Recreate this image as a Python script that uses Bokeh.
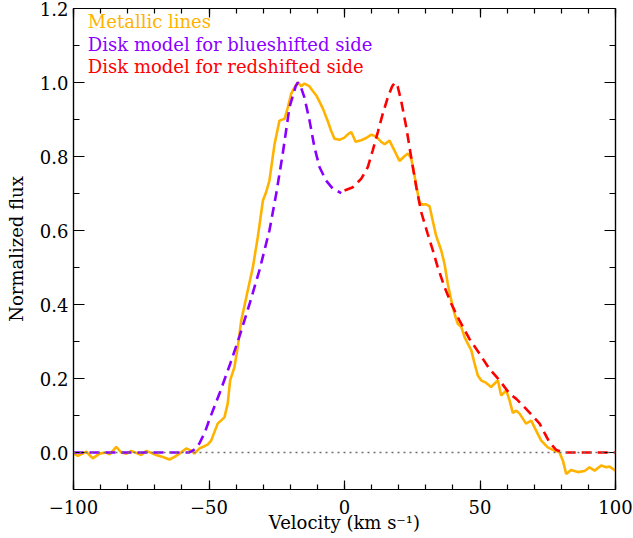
from bokeh.plotting import figure
from bokeh.models import LinearAxis, FixedTicker, CustomJSTickFormatter, Label, Span
from bokeh.embed import file_html
from bokeh.resources import INLINE

# ---------------- data ----------------
metal_v = [-100, -98.4, -95.3, -92.9, -90.4, -87.9, -86.7, -84.2, -82.4, -80.5,
           -78.7, -76.9, -75.0, -73.2, -71.3, -69.5, -67.0, -64.6, -62.7, -60.9,
           -58.4, -56.6, -55.4, -53.5, -51.7, -50.4, -49.2, -46.8, -44.3, -43.1,
           -42.2, -40.6, -39.4, -38.1, -35.7, -33.8, -32.0, -30.1, -28.9, -27.7,
           -25.8, -24.0, -22.1, -20.9, -19.7, -18.5, -17.2, -16.0, -14.8, -13.0,
           -11.7, -10.4, -8.0, -6.2, -4.9, -3.7, -1.85, 0.0, 1.2, 2.5,
           4.1, 6.2, 8.0, 9.9, 11.5, 13.5, 14.8, 16.6, 18.5, 20.3,
           22.0, 23.4, 24.6, 25.8, 26.5, 27.7, 28.9, 30.1, 31.4, 32.6,
           33.8, 35.7, 36.9, 38.1, 39.4, 40.6, 41.8, 43.1, 44.3, 45.5,
           46.8, 48.0, 49.2, 50.4, 52.3, 54.1, 56.6, 57.8, 59.7, 60.9,
           62.1, 63.4, 64.6, 67.0, 68.9, 70.7, 72.6, 75.0, 77.5, 79.3,
           80.6, 81.8, 83.6, 86.1, 88.6, 90.4, 92.3, 94.7, 96.6, 97.8, 100]
metal_f = [-0.003, -0.009, 0.002, -0.016, -0.003, 0.0, -0.005, 0.015, 0.0, -0.003,
           0.004, -0.001, -0.007, 0.004, -0.001, -0.007, -0.012, -0.019, -0.012, -0.003,
           0.011, 0.005, -0.003, 0.011, 0.017, 0.022, 0.032, 0.078, 0.095, 0.132,
           0.195, 0.231, 0.285, 0.357, 0.438, 0.501, 0.582, 0.681, 0.704, 0.735,
           0.834, 0.897, 0.902, 0.933, 0.969, 0.986, 1.0, 0.99, 0.997, 0.99,
           0.977, 0.965, 0.93, 0.896, 0.869, 0.848, 0.845, 0.851, 0.86, 0.866,
           0.84, 0.844, 0.85, 0.859, 0.855, 0.84, 0.833, 0.843, 0.815, 0.788,
           0.80, 0.808, 0.795, 0.75, 0.72, 0.675, 0.67, 0.671, 0.665, 0.625,
           0.586, 0.546, 0.51, 0.456, 0.411, 0.375, 0.348, 0.339, 0.312, 0.294,
           0.276, 0.24, 0.208, 0.195, 0.188, 0.177, 0.195, 0.154, 0.168, 0.141,
           0.107, 0.113, 0.105, 0.078, 0.086, 0.059, 0.032, 0.014, 0.005, 0.001,
           -0.022, -0.058, -0.047, -0.053, -0.05, -0.04, -0.049, -0.035, -0.04, -0.038, -0.049]

blue_v = [-100, -57.5, -56.5, -55.0, -53.5, -51.5, -49.8, -46.1, -42.4, -38.7,
          -35.1, -31.4, -27.7, -25.2, -22.8, -20.3, -18.0, -17.2, -16.2, -14.8,
          -12.9, -11.1, -9.2, -6.8, -4.3, -1.2]
blue_f = [0.0, 0.0, 0.003, 0.01, 0.025, 0.055, 0.09, 0.16, 0.235, 0.315,
          0.40, 0.492, 0.6, 0.699, 0.807, 0.933, 0.99, 1.0, 0.99, 0.96,
          0.897, 0.825, 0.771, 0.735, 0.713, 0.701]

red_v = [0.0, 3.1, 6.2, 8.6, 10.4, 12.3, 14.1, 16.0, 17.6, 18.6,
         19.6, 20.9, 22.8, 24.6, 26.5, 28.3, 30.7, 32.6, 34.4, 36.9,
         39.4, 42.4, 46.1, 49.8, 53.5, 57.2, 60.9, 63.4, 67.0, 72.0,
         75.6, 78.1, 80.6, 100]
red_f = [0.708, 0.717, 0.74, 0.771, 0.816, 0.866, 0.915, 0.96, 0.99, 1.0,
         0.99, 0.951, 0.879, 0.798, 0.717, 0.65, 0.591, 0.546, 0.501, 0.447,
         0.402, 0.357, 0.307, 0.267, 0.226, 0.195, 0.159, 0.145, 0.118, 0.078,
         0.028, 0.007, 0.0, 0.0]

x_major = [-100, -50, 0, 50, 100]
x_minor = list(range(-100, 101, 10))
y_major = [0.0, 0.2, 0.4, 0.6, 0.8, 1.0, 1.2]
y_minor = [-0.1, 0.0, 0.1, 0.2, 0.3, 0.4, 0.5, 0.6, 0.7, 0.8, 0.9, 1.0, 1.1, 1.2]
x_labels = {-100: "\u2212100", -50: "\u221250", 0: "0", 50: "50", 100: "100"}
y_labels = {0.0: "0.0", 0.2: "0.2", 0.4: "0.4", 0.6: "0.6", 0.8: "0.8", 1.0: "1.0", 1.2: "1.2"}

legend_texts = ["Metallic lines", "Disk model for blueshifted side", "Disk model for redshifted side"]

C_METAL = "#FFB300"
C_BLUE = "#8A00FF"
C_RED = "#FF0000"
FONT = "DejaVu Serif"
FS = "18px"

# ---------------- figure ----------------
p = figure(width=633, height=538, x_range=(-100, 100), y_range=(-0.1, 1.2),
           output_backend="svg", toolbar_location=None,
           x_axis_location=None, y_axis_location=None,
           min_border_left=73, min_border_right=18, min_border_top=8, min_border_bottom=49)
p.xgrid.visible = False
p.ygrid.visible = False
p.outline_line_color = "black"
p.outline_line_width = 1.2
p.background_fill_color = "white"
p.border_fill_color = "white"

xt = FixedTicker(ticks=x_major, minor_ticks=x_minor)
yt = FixedTicker(ticks=y_major, minor_ticks=y_minor)
blank = CustomJSTickFormatter(code="return ''")


def style(ax, tin, mtin):
    ax.major_tick_in = tin
    ax.major_tick_out = 0
    ax.minor_tick_in = mtin
    ax.minor_tick_out = 0
    ax.axis_line_color = "black"
    ax.axis_line_width = 1.2
    ax.major_tick_line_color = "black"
    ax.minor_tick_line_color = "black"
    ax.major_tick_line_width = 1.2
    ax.minor_tick_line_width = 1.2
    ax.major_label_text_font = FONT
    ax.major_label_text_font_size = FS
    ax.major_label_text_color = "black"
    ax.axis_label_text_font = FONT
    ax.axis_label_text_font_size = FS
    ax.axis_label_text_font_style = "normal"
    ax.axis_label_text_color = "black"


xb = LinearAxis(ticker=xt, axis_label="Velocity (km s\u207b\u00b9)")
xb.major_label_overrides = x_labels
style(xb, 9, 5)
xb.major_label_standoff = 10
xb.axis_label_standoff = -5
p.add_layout(xb, "below")

yl = LinearAxis(ticker=yt, axis_label="Normalized flux")
yl.major_label_overrides = y_labels
style(yl, 11, 6)
yl.major_label_standoff = 5
yl.axis_label_standoff = 10
p.add_layout(yl, "left")

xa = LinearAxis(ticker=xt, formatter=blank)
style(xa, 9, 5)
xa.major_label_standoff = 0
xa.major_label_text_font_size = "1px"
p.add_layout(xa, "above")

yr = LinearAxis(ticker=yt, formatter=blank)
style(yr, 11, 6)
yr.major_label_standoff = 0
yr.major_label_text_font_size = "1px"
p.add_layout(yr, "right")

# zero line
p.add_layout(Span(location=0, dimension="width", line_color="#6f6f6f",
                  line_dash="2 4", line_width=1.5))

p.line(metal_v, metal_f, line_color=C_METAL, line_width=2.6)
p.line(blue_v, blue_f, line_color=C_BLUE, line_width=2.6, line_dash="10 6")
p.line(red_v, red_f, line_color=C_RED, line_width=2.6, line_dash="10 6")

for txt, col, yy in zip(legend_texts, [C_METAL, C_BLUE, C_RED], [1.164, 1.104, 1.043]):
    p.add_layout(Label(x=-94.7, y=yy, text=txt, text_color=col, text_font=FONT,
                       text_font_size=FS, text_baseline="alphabetic", text_align="left"))

open("out.html", "w").write(file_html(p, INLINE))
